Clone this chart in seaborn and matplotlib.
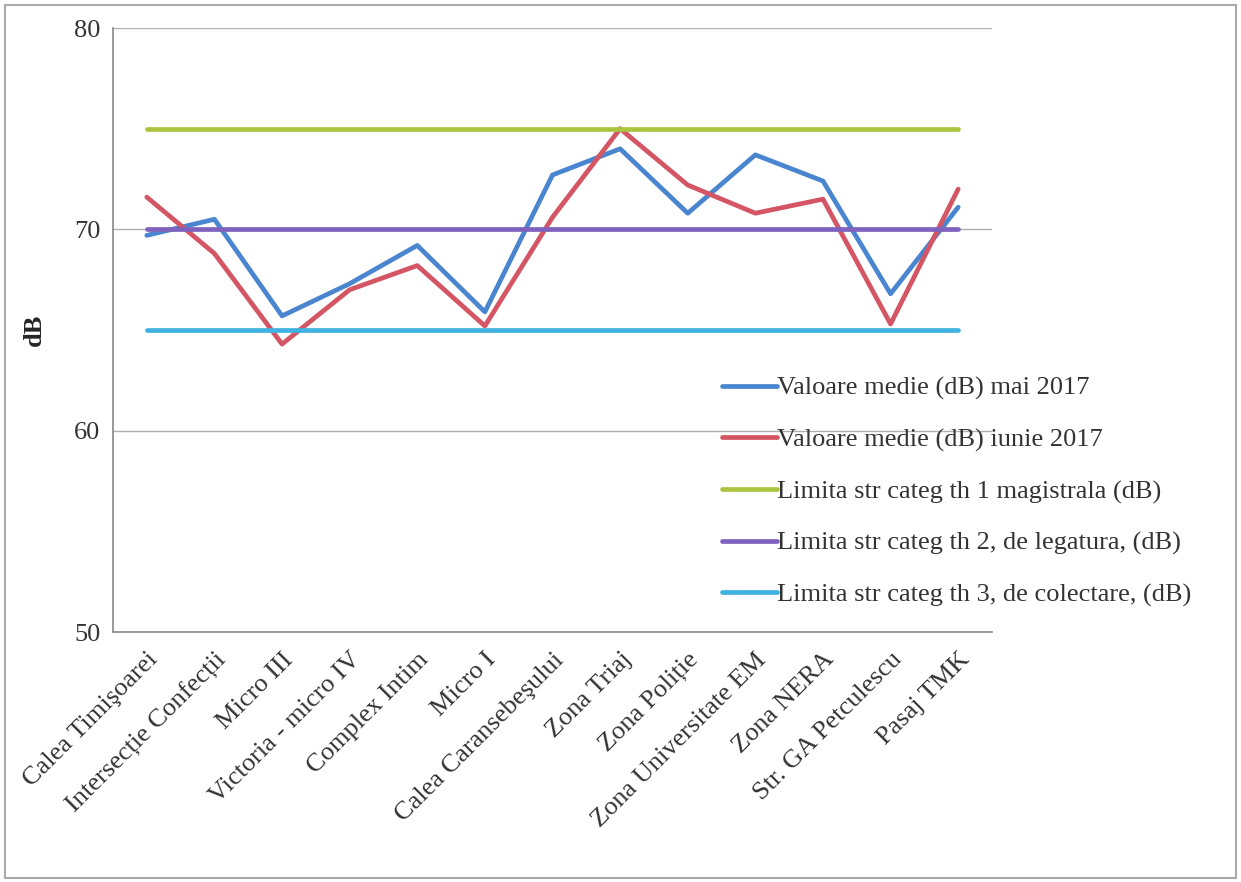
import numpy as np
import pandas as pd
import matplotlib
matplotlib.use("Agg")
import matplotlib.pyplot as plt
import seaborn as sns
from matplotlib.ticker import FixedLocator

# categorii (puncte de masurare)
locatii = [
    "Calea Timişoarei", "Intersecție Confecții", "Micro III", "Victoria - micro IV",
    "Complex Intim", "Micro I", "Calea Caransebeşului", "Zona Triaj", "Zona Poliție",
    "Zona Universitate EM", "Zona NERA", "Str. GA Petculescu", "Pasaj TMK",
]

mai_2017 = [69.7, 70.5, 65.7, 67.3, 69.2, 65.9, 72.7, 74.0, 70.8, 73.7, 72.4, 66.8, 71.1]
iunie_2017 = [71.6, 68.8, 64.3, 67.0, 68.2, 65.2, 70.6, 75.0, 72.2, 70.8, 71.5, 65.3, 72.0]
limita_1 = [75] * 13
limita_2 = [70] * 13
limita_3 = [65] * 13

serii = [
    "Valoare medie (dB) mai 2017",
    "Valoare medie (dB) iunie 2017",
    "Limita str categ th 1 magistrala (dB)",
    "Limita str categ th 2, de legatura, (dB)",
    "Limita str categ th 3, de colectare, (dB)",
]
culori = ["#4a86cf", "#d45563", "#aac43f", "#7e62bd", "#3fb2e0"]

df = pd.concat([
    pd.DataFrame({"Locatie": locatii, "dB": vals, "Serie": nume})
    for nume, vals in zip(serii, [mai_2017, iunie_2017, limita_1, limita_2, limita_3])
])

sns.set_style("white")
plt.rcParams["font.family"] = ["Liberation Serif", "DejaVu Serif"]

fig = plt.figure(figsize=(12.41, 8.82), dpi=100)
ax = fig.add_axes([113 / 1241, 1 - 632 / 882, (992 - 113) / 1241, (632 - 28) / 882])

sns.lineplot(data=df, x="Locatie", y="dB", hue="Serie", palette=culori,
             linewidth=3.4, sort=False, ax=ax, legend=False)

ax.set_xlim(-0.5, 12.5)
ax.set_ylim(50, 80)
ax.set_yticks([50, 60, 70, 80])
ax.yaxis.grid(True, color="#b0b0b0", linewidth=1)
ax.set_axisbelow(True)
for s in ["top", "right"]:
    ax.spines[s].set_visible(False)
for s in ["left", "bottom"]:
    ax.spines[s].set_color("#888888")
    ax.spines[s].set_linewidth(1.2)

ax.set_xticks(range(len(locatii)))
ax.set_xticklabels(locatii, rotation=45, ha="right", rotation_mode="anchor", fontsize=19, color="#333333")
ax.xaxis.set_minor_locator(FixedLocator(np.arange(-0.5, 13, 1)))
ax.tick_params(axis="x", which="major", length=0, pad=12)
ax.tick_params(axis="x", which="minor", length=6, color="#888888", direction="out")
ax.tick_params(axis="y", length=6, color="#888888", direction="out", pad=3,
               labelsize=19, labelcolor="#333333")
ax.set_xlabel("")
ax.set_ylabel("dB", fontsize=19, fontweight="bold", labelpad=20)

handles = [plt.Line2D([], [], color=c, linewidth=3.4) for c in culori]
fig.legend(handles, serii, loc="upper left", bbox_to_anchor=(711 / 1241, 1 - 366 / 882),
           frameon=False, fontsize=19, handlelength=2.1, handletextpad=0.0,
           labelspacing=1.05, labelcolor="#333333", borderaxespad=0)

fig.patches.append(plt.Rectangle((0.004, 0.004), 0.992, 0.99, transform=fig.transFigure,
                                 fill=False, edgecolor="#aaaaaa", linewidth=1.5))

fig.savefig("out.png", dpi=100)
